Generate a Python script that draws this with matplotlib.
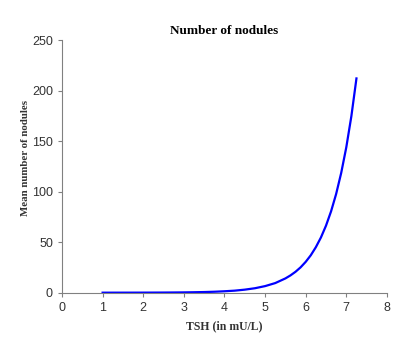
import numpy as np
import matplotlib
matplotlib.use("Agg")
import matplotlib.pyplot as plt

# TSH level (mU/L) and mean number of nodules
tsh = [1.0, 1.25, 1.5, 1.75, 2.0, 2.25, 2.5, 2.75, 3.0, 3.25, 3.5, 3.75,
       4.0, 4.25, 4.5, 4.75, 5.0, 5.25, 5.5, 5.625, 5.75, 5.875, 6.0, 6.125,
       6.25, 6.375, 6.5, 6.625, 6.75, 6.875, 7.0, 7.125, 7.25]
nodules = [0.01, 0.02, 0.03, 0.04, 0.06, 0.09, 0.13, 0.2, 0.29, 0.43, 0.63, 0.93,
           1.4, 2.0, 3.0, 4.4, 6.5, 9.5, 14.1, 17.1, 20.7, 25.1, 30.5, 37.0,
           45.0, 54.6, 66.3, 80.5, 97.7, 118.6, 143.9, 174.7, 212.0]

x_ticks = [0, 1, 2, 3, 4, 5, 6, 7, 8]
y_ticks = [0, 50, 100, 150, 200, 250]

AXIS_GREY = "#808080"
TEXT_GREY = "#333333"

fig = plt.figure(figsize=(4.09, 3.42), dpi=100)
ax = fig.add_axes([0.1516, 0.1442, 0.7944, 0.7388])

ax.plot(tsh, nodules, color=(0, 0, 1), linewidth=1.6)

ax.set_xlim(0, 8)
ax.set_ylim(0, 250)
ax.set_xticks(x_ticks)
ax.set_yticks(y_ticks)

for side in ["top", "right"]:
    ax.spines[side].set_visible(False)
for side in ["left", "bottom"]:
    ax.spines[side].set_color(AXIS_GREY)
    ax.spines[side].set_linewidth(0.8)

ax.tick_params(axis="both", direction="out", length=3, width=0.8,
               colors=AXIS_GREY, labelcolor=TEXT_GREY, labelsize=9)
for lbl in ax.get_xticklabels() + ax.get_yticklabels():
    lbl.set_family("Liberation Sans")

serif = dict(family="Liberation Serif", weight="bold")
ax.set_title("Number of nodules", fontsize=9.5, pad=4, color="black", **serif)
ax.set_xlabel("TSH (in mU/L)", fontsize=8.5, labelpad=5, color=TEXT_GREY, **serif)
ax.set_ylabel("Mean number of nodules", fontsize=7.8, color=TEXT_GREY, **serif)
ax.yaxis.set_label_coords(-0.098, 0.533)

fig.savefig("out.png", dpi=100)
